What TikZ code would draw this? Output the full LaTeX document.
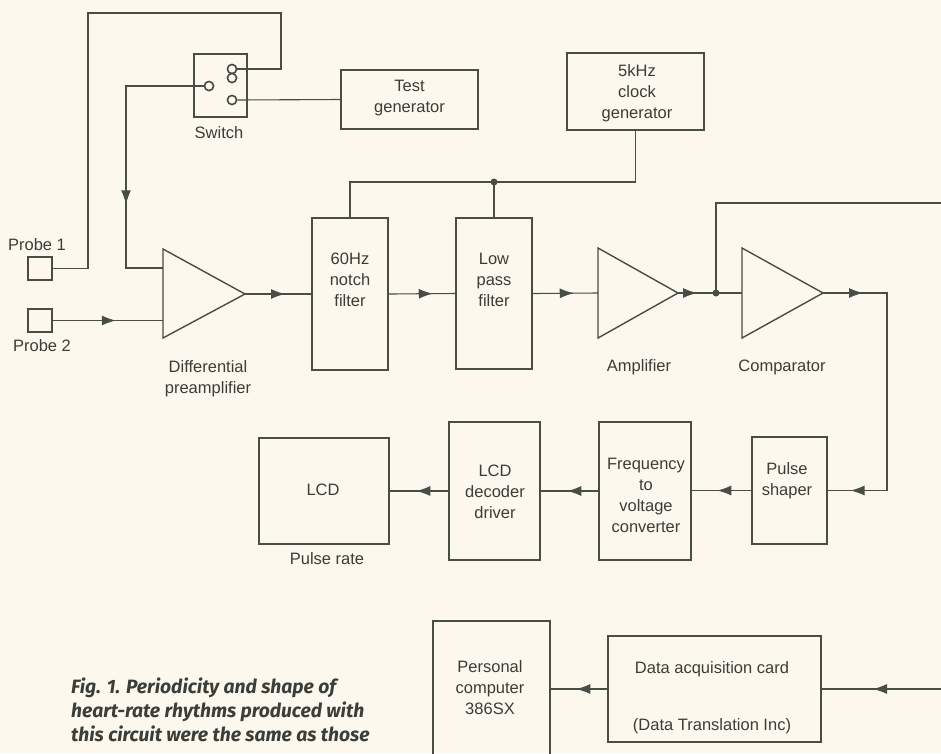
\documentclass[tikz,border=0pt]{standalone}
\usepackage{fontspec}
\setmainfont{Liberation Sans}
\newfontfamily\capfont{Fira Sans}
\usetikzlibrary{arrows.meta,decorations.markings}
\definecolor{bg}{RGB}{252,248,238}
\definecolor{ink}{RGB}{72,77,70}
\definecolor{txtc}{RGB}{58,61,56}
\begin{document}
\begin{tikzpicture}[x=1pt,y=-1pt,
  box/.style={draw=ink, line width=1.5pt, inner sep=0pt},
  conn/.style={draw=ink, line width=1.1pt},
  tri/.style={draw=ink, line width=1.4pt, line join=miter},
  txt/.style={text=txtc, font=\fontsize{16.5}{21}\selectfont, align=center, inner sep=0pt},
  captext/.style={text=txtc, font=\capfont\bfseries\itshape\fontsize{19.3}{24}\selectfont, inner sep=0pt, anchor=base west},
  contact/.style={circle, draw=ink, line width=1.5pt, fill=bg, minimum size=9pt, inner sep=0pt},
  dot/.style={circle, fill=ink, minimum size=7pt, inner sep=0pt},
  midarrow/.style={postaction={decorate,decoration={markings,mark=at position #1 with {\arrow{Latex[length=14pt,width=10pt]}}}}}
]
\clip (0,0) rectangle (941,753);
\fill[bg] (0,0) rectangle (941,753);

% boxes
\node[box, minimum width=24pt, minimum height=23pt] (p1) at (40,268.5) {};
\node[box, minimum width=24pt, minimum height=23pt] (p2) at (40,320.5) {};
\node[box, minimum width=53pt, minimum height=63pt] (sw) at (220.5,85.5) {};
\node[box, minimum width=137pt, minimum height=59pt] (test) at (409.5,99.5) {};
\node[box, minimum width=137pt, minimum height=77pt] (clock) at (635.5,91.5) {};
\node[box, minimum width=76pt, minimum height=152pt] (notch) at (350,294) {};
\node[box, minimum width=76pt, minimum height=151pt] (lowpass) at (494,293.5) {};
\node[box, minimum width=75pt, minimum height=107pt] (pulse) at (789.5,490.5) {};
\node[box, minimum width=92pt, minimum height=138pt] (freq) at (645,491) {};
\node[box, minimum width=91pt, minimum height=138pt] (dec) at (494.5,491) {};
\node[box, minimum width=130pt, minimum height=106pt] (lcd) at (324,491) {};
\node[box, minimum width=117pt, minimum height=160pt] (pc) at (491.5,701) {};
\node[box, minimum width=213pt, minimum height=106pt] (daq) at (714.5,689) {};

% triangles
\draw[tri] (163,249) -- (245,294) coordinate (dout) -- (163,338) -- cycle;
\coordinate (din1) at (163,268);
\coordinate (din2) at (163,320.5);
\draw[tri] (598,248) -- (678,293) coordinate (aout) -- (598,338) -- cycle;
\coordinate (ain) at (598,293);
\draw[tri] (742,248) -- (823,293) coordinate (cout) -- (742,338) -- cycle;
\coordinate (cin) at (742,293);

% switch contacts
\node[contact] (swL) at (209,86) {};
\node[contact] (sw8a) at (232,69) {};
\node[contact] (sw8b) at (232,78) {};
\node[contact] (swR) at (232,100) {};

% helper coordinates
\coordinate (tl) at (88,13);
\coordinate (tr) at (281,13);
\coordinate (sl) at (126,268);
\coordinate (clkc) at (635.5,182);
\coordinate (ja) at (716,293);
\coordinate (edge1) at (945,203);
\coordinate (cr) at (887,293);
\coordinate (edge2) at (945,689);

% connectors
\draw[conn] (p1.east) -| (tl) -- (tr) |- (sw8a.east);
\draw[conn, midarrow=196pt] (swL.west) -| (sl) -- (din1);
\draw[conn] (swR.east) -- (test.west);
\draw[conn, midarrow=63pt] (p2.east) -- (din2);
\draw[conn, midarrow=40pt] (dout) -- (notch.west);
\draw[conn, midarrow=44pt] (notch.east) -- (lowpass.west);
\draw[conn, midarrow=41pt] (lowpass.east) -- (ain);
\draw[conn] (notch.north) |- (clkc) -- (clock.south);
\node[dot] (jc) at (494,182) {};
\draw[conn] (jc.center) -- (lowpass.north);
\draw[conn, midarrow=19pt] (aout) -- (cin);
\node[dot] (jdot) at (ja) {};
\draw[conn] (jdot.center) |- (edge1);
\draw[conn, midarrow=40pt, midarrow=298pt] (cout) -- (cr) |- (pulse.east);
\draw[conn, midarrow=34pt] (pulse.west) -- (pulse.west -| freq.east);
\draw[conn, midarrow=31pt] (freq.west) -- (freq.west -| dec.east);
\draw[conn, midarrow=32pt] (dec.west) -- (dec.west -| lcd.east);
\draw[conn, midarrow=72pt] (edge2) -- (daq.east);
\draw[conn, midarrow=31pt] (daq.west) -- (daq.west -| pc.east);

% redraw contacts over lines
\node[contact] at (swL) {};
\node[contact] at (sw8a) {};
\node[contact] at (sw8b) {};
\node[contact] at (swR) {};

% texts
\node[txt] (tp1) at (37,245) {Probe 1};
\node[txt] (tp2) at (42,346) {Probe 2};
\node[txt] (tsw) at (219,133) {Switch};
\node[txt] (ttest) at (409.5,98) {Test\\generator};
\node[txt] (tclock) at (637,93) {5kHz\\clock\\generator};
\node[txt] (tdiff) at (208,379) {Differential\\preamplifier};
\node[txt] (tnotch) at (350,280) {60Hz\\notch\\filter};
\node[txt] (tlow) at (494,280) {Low\\pass\\filter};
\node[txt] (tamp) at (639,367) {Amplifier};
\node[txt] (tcomp) at (782,367) {Comparator};
\node[txt] (tpulse) at (787,481) {Pulse\\shaper};
\node[txt] (tfreq) at (646,495) {Frequency\\to\\voltage\\converter};
\node[txt] (tdec) at (495,492) {LCD\\decoder\\driver};
\node[txt] (tlcd) at (323,490) {LCD};
\node[txt] (trate) at (327,559) {Pulse rate};
\node[txt] (tpc) at (490,688) {Personal\\computer\\386SX};
\node[txt] (tdaq1) at (712,669) {Data acquisition card};
\node[txt] (tdaq2) at (712,726) {(Data Translation Inc)};

\node[captext] (c1) at (71,693) {Fig. 1. Periodicity and shape of};
\node[captext] (c2) at (71,717) {heart-rate rhythms produced with};
\node[captext] (c3) at (71,741) {this circuit were the same as those};
\end{tikzpicture}
\end{document}
